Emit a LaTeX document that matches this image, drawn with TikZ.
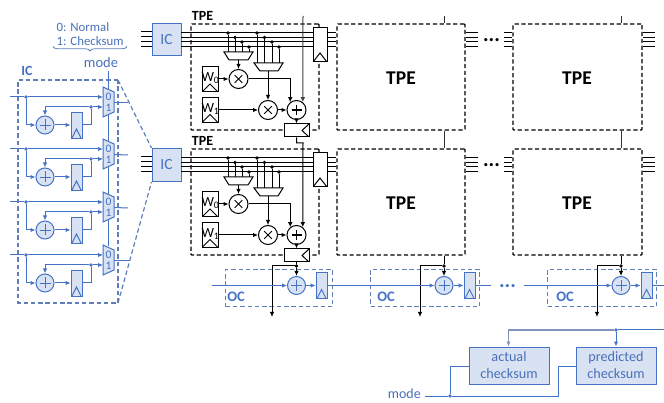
\documentclass[tikz,border=0pt]{standalone}
\usepackage{fontspec}
\setmainfont{Carlito}
\usetikzlibrary{arrows.meta,decorations.pathreplacing,calc}
\definecolor{bl}{HTML}{4472C4}
\definecolor{bf}{HTML}{D9E2F3}
\definecolor{dbl}{HTML}{5F7FB8}
\definecolor{tbl}{HTML}{4A70B8}
\definecolor{gbl}{HTML}{7F95BE}
\tikzset{
  x=1pt,y=-1pt,
  arr/.style={-{Latex[length=5pt,width=4.5pt]}},
  wb/.style={draw=black,line width=1pt},
  wbl/.style={draw=bl,line width=1pt},
  dashbox/.style={draw=black,line width=1.15pt,dash pattern=on 4.2pt off 2.6pt,rounded corners=0.8pt,inner sep=0pt},
  dashblue/.style={draw=dbl,line width=1.2pt,dash pattern=on 4.5pt off 2.8pt},
  dotk/.style={circle,fill=black,inner sep=0pt,minimum size=3.6pt},
  dotb/.style={circle,fill=bl,inner sep=0pt,minimum size=3.6pt},
  sumb/.style={circle,draw=bl,fill=bf,line width=1pt,minimum size=18pt,inner sep=0pt,
    path picture={\draw[bl,line width=0.9pt] ([xshift=-5.5pt]path picture bounding box.center)--([xshift=5.5pt]path picture bounding box.center);
      \draw[bl,line width=0.9pt] ([yshift=-5.5pt]path picture bounding box.center)--([yshift=5.5pt]path picture bounding box.center);}},
  sumk/.style={circle,draw=black,fill=white,line width=1pt,minimum size=19pt,inner sep=0pt,
    path picture={\draw[black,line width=1.2pt] ([xshift=-5pt]path picture bounding box.center)--([xshift=5pt]path picture bounding box.center);
      \draw[black,line width=1.2pt] ([yshift=-5pt]path picture bounding box.center)--([yshift=5pt]path picture bounding box.center);}},
  mulk/.style={circle,draw=black,fill=white,line width=1pt,minimum size=19pt,inner sep=0pt,
    path picture={\draw[black,line width=1pt] ([shift={(-3.8pt,-3.8pt)}]path picture bounding box.center)--([shift={(3.8pt,3.8pt)}]path picture bounding box.center);
      \draw[black,line width=1pt] ([shift={(-3.8pt,3.8pt)}]path picture bounding box.center)--([shift={(3.8pt,-3.8pt)}]path picture bounding box.center);}},
  regb/.style={rectangle,draw=bl,fill=bf,line width=0.9pt,minimum width=11pt,minimum height=26pt,inner sep=0pt,
    path picture={\draw[bl,line width=0.9pt] ([xshift=1pt]path picture bounding box.south west)--([yshift=9pt]path picture bounding box.south)--([xshift=-1pt]path picture bounding box.south east);}},
  regk/.style={rectangle,draw=black,fill=white,line width=1pt,minimum width=14pt,minimum height=34pt,inner sep=0pt,
    path picture={\draw[black,line width=1pt] (path picture bounding box.south west)--([yshift=9pt]path picture bounding box.south)--(path picture bounding box.south east);}},
  regh/.style={rectangle,draw=black,fill=white,line width=1pt,minimum width=25pt,minimum height=13pt,inner sep=0pt,
    path picture={\draw[black,line width=1pt] (path picture bounding box.north east)--([xshift=-7pt]path picture bounding box.east)--(path picture bounding box.south east);}},
  wreg/.style={rectangle,draw=black,fill=white,line width=1pt,minimum width=16pt,minimum height=25pt,inner sep=0pt,
    path picture={\draw[black,line width=1pt] (path picture bounding box.south west)--([yshift=8pt]path picture bounding box.south)--(path picture bounding box.south east);}},
  icbox/.style={rectangle,draw=bl,fill=bf,line width=1pt,inner sep=0pt,minimum width=29pt,text=bl,font=\fontsize{15.5}{15.5}\selectfont},
  ckbox/.style={rectangle,draw=bl,fill=bf,line width=1pt,inner sep=0pt,minimum width=80pt,minimum height=37pt,text=tbl,align=center,font=\fontsize{14.2}{17}\selectfont},
  btxt/.style={font=\bfseries\fontsize{14}{14}\selectfont,inner sep=0pt},
  bigt/.style={font=\bfseries\fontsize{19.5}{19.5}\selectfont,inner sep=0pt},
  ltxt/.style={text=tbl,font=\fontsize{12.8}{12.8}\selectfont,inner sep=0pt},
  dotstxt/.style={inner sep=0pt,anchor=base,font=\bfseries\fontsize{21}{21}\selectfont},
}
\begin{document}
\begin{tikzpicture}
\useasboundingbox (0,0) rectangle (664,403);
% ---------- header of the IC detail
\node[ltxt,anchor=west] (nrm) at (56.5,27) {0: Normal};
\node[ltxt,anchor=west] (chk) at (56.5,41) {1: Checksum};
\draw[decorate,decoration={brace,amplitude=4.5pt},draw=dbl,line width=0.8pt] (127,46.5) -- (53,46.5);
\node[ltxt,font=\fontsize{14.5}{14.5}\selectfont] (mod) at (101,63) {mode};
\node[btxt,text=bl] (iclab) at (27,71) {IC};
% IC detail
\coordinate (mtop) at (108.5,71);
\coordinate (mbot) at (108.5,246);
\draw[wbl] (mtop) -- (mbot);
\foreach \i/\t in {1/87,2/139,3/192,4/245}{
\begin{scope}[shift={(0,\t)}]
  \coordinate (inL\i) at (10,10);
  \coordinate (mi0\i) at (103,10);
  \coordinate (mi1\i) at (103,20);
  \coordinate (mo\i) at (114,15.5);
  \coordinate (bend\i) at (91,38);
  \node[dotb] (d0\i) at (26,10) {};
  \node[dotb] (d1\i) at (91,20) {};
  \node[sumb] (ia\i) at (45,38) {};
  \node[regb] (ir\i) at (76.5,38) {};
  \draw[wbl] (inL\i) -- (d0\i);
  \draw[wbl,arr] (d0\i) -- (mi0\i);
  \draw[wbl,arr] (d0\i) |- (ia\i.west);
  \draw[wbl,arr] (ia\i) -- (ir\i);
  \draw[wbl] (ir\i) -- (bend\i) -- (d1\i);
  \draw[wbl,arr] (d1\i) -- (mi1\i);
  \draw[wbl,arr] (d1\i) -| (ia\i.north);
  \draw[wbl,fill=bf] (103,0) -- (114,5) -- (114,25) -- (103,30) -- cycle;
  \node[text=bl,inner sep=0pt,font=\fontsize{11.5}{11.5}\selectfont] (z\i) at (108.5,9.5) {0};
  \node[text=bl,inner sep=0pt,font=\fontsize{11.5}{11.5}\selectfont] (o\i) at (108.5,20.5) {1};
\end{scope}
}
\coordinate (e1) at (128,102.5);
\coordinate (e2) at (128,155);
\coordinate (e3) at (128,208);
\coordinate (e4) at (130,260.5);
\foreach \i in {1,2,3,4} \draw[wbl] (mo\i) -- (e\i);
\draw[dashblue] (118,80) -- (18,80) -- (18,303) -- (118,303) -- cycle;
% zoom lines
\node[icbox,minimum height=32pt] (ic1) at (166.5,40) {IC};
\node[icbox,minimum height=33pt] (ic2) at (166.5,165) {IC};
\draw[dashblue] (118,80) -- (ic2.north west);
\draw[dashblue] (118,303) -- (ic2.south west);
% TPE rows
\foreach \rw/\o in {1/0,2/125}{
\begin{scope}[shift={(0,\o)}]
  \node[dashbox,minimum width=128pt,minimum height=106pt] (ta\rw) at (255,77) {};
  \node[dashbox,minimum width=128pt,minimum height=106pt] (tb\rw) at (401,77) {};
  \node[dashbox,minimum width=129pt,minimum height=106pt] (tc\rw) at (577.5,77) {};
  \node[btxt] (tl\rw) at (202.5,16) {TPE};
  \node[bigt] (bt\rw) at (401,78) {TPE};
  \node[bigt] (ct\rw) at (577,78) {TPE};
  \node[regk] (kr\rw) at (320,45) {};
  \foreach \yy/\n in {31.5/1,36.5/2,42/3,47/4}{
    \coordinate (li\n) at (141,\yy);
    \draw[black,line width=1pt] (li\n) -- (ic\rw.west |- li\n);
  }
  \foreach \yy/\n in {33/1,37.5/2,42/3,47/4}{
    \coordinate (bs\n) at (181,\yy);
    \draw[black,line width=1pt] (bs\n) -- (kr\rw.west |- bs\n);
    \draw[black,line width=1pt] (kr\rw.east |- bs\n) -- (tb\rw.west |- bs\n);
    \draw[black,line width=1pt] (tb\rw.east |- bs\n) -- (478,\yy);
    \draw[black,line width=1pt] (504,\yy) -- (tc\rw.west |- bs\n);
    \draw[black,line width=1pt] (tc\rw.east |- bs\n) -- (655,\yy);
  }
  % selecting muxes
  \foreach \x/\yy/\n in {228/33/1,235/37.5/2,242/42/3,249/47/4}{
    \node[dotk] (pa\n) at (\x,\yy) {};
    \draw[black,line width=1pt] (pa\n) -- (\x,52);
  }
  \foreach \x/\yy/\n in {257/33/1,264.5/37.5/2,272/42/3,279/47/4}{
    \node[dotk] (pb\n) at (\x,\yy) {};
    \draw[black,line width=1pt] (pb\n) -- (\x,63);
  }
  \draw[wb,fill=white] (224,52) -- (253,52) -- (248,60) -- (229,60) -- cycle;
  \draw[wb,fill=white] (254,63) -- (283,63) -- (278,71) -- (260,71) -- cycle;
  \coordinate (mao) at (238.5,60);
  \coordinate (mbo) at (268,71);
  \node[mulk] (xa\rw) at (238.5,79) {};
  \node[mulk] (xb\rw) at (268,110) {};
  \node[sumk] (sa\rw) at (296.5,110) {};
  \node[wreg] (wa\rw) at (210,79.5) {};
  \node[wreg] (wb\rw) at (210,110) {};
  \node[inner sep=0pt,font=\fontsize{14}{14}\selectfont] (wat\rw) at (210.5,78) {W\textsubscript{0}};
  \node[inner sep=0pt,font=\fontsize{14}{14}\selectfont] (wbt\rw) at (210.5,109) {W\textsubscript{1}};
  \node[regh] (hr\rw) at (296.5,130.5) {};
  \draw[black,line width=1pt,arr] (mao) -- (xa\rw);
  \draw[black,line width=1pt,arr] (mbo) -- (xb\rw);
  \draw[black,line width=1pt,arr] (wa\rw.east |- xa\rw) -- (xa\rw);
  \draw[black,line width=1pt,arr] (wb\rw.east |- xb\rw) -- (xb\rw);
  \draw[black,line width=1pt,arr] (xa\rw.east) -| (sa\rw.129);
  \draw[black,line width=1pt,arr] (xb\rw) -- (sa\rw);
  \draw[black,line width=1pt,arr] (sa\rw) -- (hr\rw);
\end{scope}
}
% vertical links of column 1
\coordinate (vt) at (303,16);
\coordinate (jg1) at (296.5,143);
\coordinate (jg2) at (303,143);
\draw[black!75,line width=1pt,arr] (vt) -- (sa1.51);
\draw[black,line width=1pt,arr] (hr1) -- (jg1) -- (jg2) -- (sa2.51);
% vertical links of the other columns
\foreach \c/\x in {b/444,c/621}{
  \coordinate (vv\c) at (\x,16);
  \draw[black!80,line width=1pt] (vv\c) -- (t\c1.north -| vv\c);
  \draw[black!80,line width=1pt] (t\c1.south -| vv\c) -- (t\c2.north -| vv\c);
}
% dots
\node[dotstxt] (dk1) at (491.5,41.5) {...};
\node[dotstxt] (dk2) at (491.5,166.5) {...};
% OC row
\foreach \k/\ax/\lx/\rx/\tx/\xl/\xr in {1/296.5/272/321.5/236/225/332,2/444/420/469.5/386/370/479,3/621/597/646.5/565/547/656}{
  \node[draw=dbl,line width=1.2pt,dash pattern=on 4.5pt off 2.8pt,inner sep=0pt,minimum width={\xr pt-\xl pt},minimum height=37pt,anchor=north west] (ocb\k) at (\xl,269) {};
  \node[btxt,font=\bfseries\fontsize{14.5}{14.5}\selectfont,text=bl] (ocl\k) at (\tx,297) {OC};
  \node[sumb] (oa\k) at (\ax,285.5) {};
  \node[regb] (or\k) at (\rx,285.5) {};
  \node[dotk] (od\k) at (\ax,266) {};
  \coordinate (ob\k) at (\lx,266);
  \coordinate (oe\k) at (\lx,317);
  \draw[black,line width=1pt,arr] (od\k) -- (ob\k) -- (oe\k);
  \draw[black,line width=1pt,arr] (od\k) -- (oa\k);
  \draw[wbl,arr] (oa\k) -- (or\k);
}
\draw[black,line width=1pt] (hr2) -- (od1);
\draw[black,line width=1pt] (tb2.south -| od2) -- (od2);
\draw[black,line width=1pt] (tc2.south -| od3) -- (od3);
\coordinate (os) at (212,285.5);
\coordinate (om1) at (491,285.5);
\coordinate (om2) at (524,285.5);
\coordinate (oo) at (664,285.5);
\draw[wbl,arr] (os) -- (oa1);
\draw[wbl,arr] (or1) -- (oa2);
\draw[wbl] (or2) -- (om1);
\draw[wbl,arr] (om2) -- (oa3);
\draw[wbl] (or3) -- (oo);
\node[dotstxt,text=bl] (od) at (507.5,287.5) {...};
% checksums
\node[ckbox] (ac) at (509,365.5) {actual\\checksum};
\node[ckbox] (pc) at (616,365.5) {predicted\\checksum};
\node[dotb] (cd) at (616,330) {};
\coordinate (cr) at (664,330);
\coordinate (cl) at (508.5,330);
\draw[wbl] (cr) -- (cd);
\draw[line width=1.1pt,draw=gbl,arr] (cd) -- (cl) -- (ac.north -| cl);
\draw[wbl,arr] (cd) -- (pc);
\node[ltxt,font=\fontsize{14}{14}\selectfont,anchor=east] (bm) at (421,393.5) {mode};
\coordinate (ms) at (425,396);
\node[dotb] (md) at (450,396) {};
\coordinate (mr) at (558,396);
\draw[wbl] (ms) -- (md) -- (mr) |- (pc.west |- 0,366);
\draw[wbl] (md) |- (ac.west |- 0,366);
\end{tikzpicture}
\end{document}
